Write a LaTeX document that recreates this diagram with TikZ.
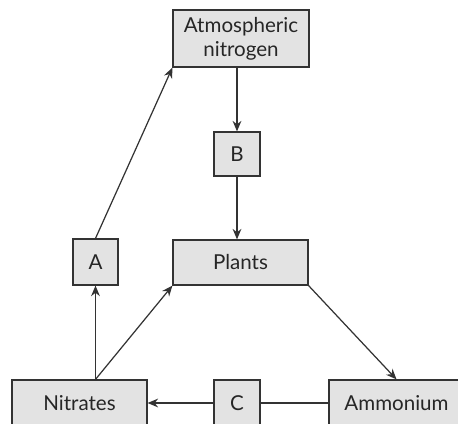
\documentclass[tikz,border=0pt]{standalone}
\usepackage{fontspec}
\setmainfont{Lato}
\usetikzlibrary{arrows.meta}
\tikzset{
  box/.style={draw=black!80, fill=black!11, line width=0.7pt, inner sep=0pt,
    align=center, font=\fontsize{11.7}{13.6}\selectfont, text=black!85},
  flow/.style={draw=black!80, line width=0.7pt, -{Stealth[length=6pt,width=5pt]}}
}
\begin{document}
\begin{tikzpicture}[x=0.02cm, y=-0.02cm]
    \useasboundingbox (0,0) rectangle (458,424);
    % boxes
    \node[box, minimum width=2.72cm, minimum height=1.14cm] (atmos) at (241,38.5) {Atmospheric\\nitrogen};
    \node[box, minimum width=0.92cm, minimum height=0.88cm] (B) at (237,154) {B};
    \node[box, minimum width=2.7cm, minimum height=0.9cm] (plants) at (240.5,262.5) {Plants};
    \node[box, minimum width=0.9cm, minimum height=0.92cm] (A) at (95.5,262) {A};
    \node[box, minimum width=2.7cm, minimum height=0.92cm] (nitrates) at (79.5,403) {Nitrates};
    \node[box, minimum width=0.92cm, minimum height=0.92cm] (C) at (237,403) {C};
    \node[box, minimum width=2.7cm, minimum height=0.92cm] (ammonium) at (396.5,403) {Ammonium};

    % arrows
    \draw[flow] (A.south |- nitrates.north) -- (A.south);
    \draw[flow] (A.south |- nitrates.north) -- (plants.south west);
    \draw[flow] (A.north) -- (atmos.south west);
    \draw[flow] (B.north |- atmos.south) -- (B.north);
    \draw[flow] (B.south) -- (B.south |- plants.north);
    \draw[flow] (plants.south east) -- (ammonium.north);
    \draw[draw=black!80, line width=0.7pt] (ammonium.west) -- (C.east);
    \draw[flow] (C.west) -- (nitrates.east);
\end{tikzpicture}
\end{document}
